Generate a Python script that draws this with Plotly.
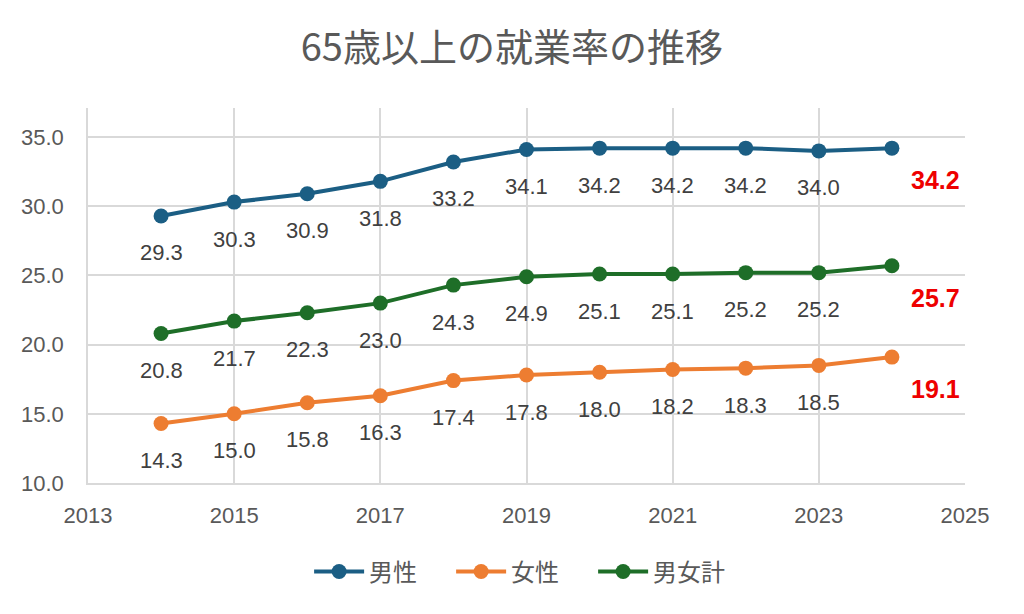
import plotly.graph_objects as go

years = [2014, 2015, 2016, 2017, 2018, 2019, 2020, 2021, 2022, 2023, 2024]
male = [29.3, 30.3, 30.9, 31.8, 33.2, 34.1, 34.2, 34.2, 34.2, 34.0, 34.2]
female = [14.3, 15.0, 15.8, 16.3, 17.4, 17.8, 18.0, 18.2, 18.3, 18.5, 19.1]
total = [20.8, 21.7, 22.3, 23.0, 24.3, 24.9, 25.1, 25.1, 25.2, 25.2, 25.7]

series = [
    ("男性", male, "#1B5E84"),
    ("女性", female, "#ED7D31"),
    ("男女計", total, "#1E6E28"),
]

grey = "#595959"
label_grey = "#404040"
grid = "#D9D9D9"
num_font = "Liberation Sans, Arial, sans-serif"
jp_font = "Noto Sans CJK JP, sans-serif"

fig = go.Figure()
annotations = []
for name, vals, color in series:
    fig.add_trace(go.Scatter(
        x=years, y=vals, name=name, mode="lines+markers",
        line=dict(color=color, width=4),
        marker=dict(color=color, size=15),
    ))
    # value labels under each point, last one in red off to the right
    for yr, v in zip(years[:-1], vals[:-1]):
        annotations.append(dict(
            x=yr, y=v, text=f"{v:.1f}", showarrow=False, yshift=-37,
            font=dict(family=num_font, size=22, color=label_grey)))
    annotations.append(dict(
        x=years[-1], y=vals[-1], text=f"<b>{vals[-1]:.1f}</b>", showarrow=False,
        xshift=44, yshift=-32,
        font=dict(family=num_font, size=25, color="#EE0000")))

# page body adds an 8px offset, so margins/positions are shifted to compensate
fig.update_layout(
    width=1024, height=614,
    margin=dict(l=80, r=67, t=100, b=139),
    paper_bgcolor="white", plot_bgcolor="white",
    title=dict(text="65歳以上の就業率の推移", x=0.492, xanchor="center",
               y=1 - 40 / 614, yanchor="middle",
               font=dict(family=jp_font, size=38, color=grey)),
    legend=dict(orientation="h", x=0.495, xanchor="center", y=-0.237, yanchor="middle",
                font=dict(family=jp_font, size=24, color=grey),
                itemwidth=50, entrywidth=77, traceorder="normal"),
    annotations=annotations,
    showlegend=True,
)
fig.update_xaxes(range=[2013, 2025], dtick=2, tick0=2013, showgrid=True,
                 gridcolor=grid, gridwidth=1.5, showline=True, linecolor=grid, linewidth=1.5,
                 zeroline=False, ticks="", ticklabelstandoff=12,
                 tickfont=dict(family=num_font, size=22, color=grey))
fig.update_yaxes(range=[10, 37.1], dtick=5, tick0=10, showgrid=True,
                 gridcolor=grid, gridwidth=1.5, showline=True, linecolor=grid, linewidth=1.5,
                 zeroline=False, ticks="", tickformat=".1f", ticklabelstandoff=18,
                 tickfont=dict(family=num_font, size=22, color=grey))

fig.write_html("out.html")
